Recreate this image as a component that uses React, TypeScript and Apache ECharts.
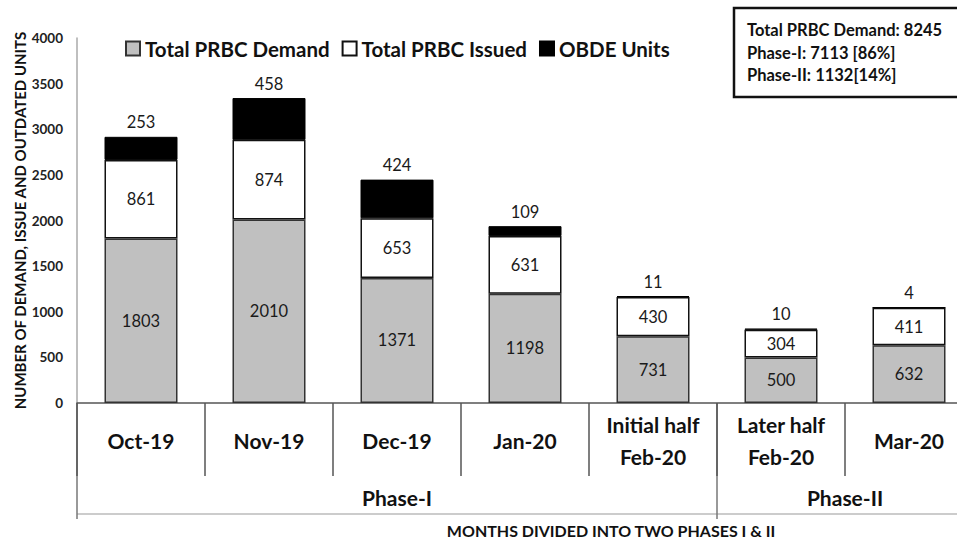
import React, { useEffect, useRef } from "react";
import * as echarts from "echarts";

const categories = [
  "Oct-19",
  "Nov-19",
  "Dec-19",
  "Jan-20",
  "Initial half\nFeb-20",
  "Later half\nFeb-20",
  "Mar-20",
];
const demand = [1803, 2010, 1371, 1198, 731, 500, 632];
const issued = [861, 874, 653, 631, 430, 304, 411];
const obde = [253, 458, 424, 109, 11, 10, 4];
const seriesNames = ["Total PRBC Demand", "Total PRBC Issued", "OBDE Units"];
const phaseNames = ["Phase-I", "Phase-II"];
const phaseStarts = [0, 5];
const phaseEnds = [5, 7];
const summaryLines = [
  "Total PRBC Demand: 8245",
  "Phase-I: 7113 [86%]",
  "Phase-II: 1132[14%]",
];
const yMin = 0;
const yMax = 4000;
const yInterval = 500;
const yTitle = "NUMBER OF DEMAND, ISSUE AND OUTDATED UNITS";
const xTitle = "MONTHS DIVIDED INTO TWO PHASES I & II";

const FONT = "Lato, 'Open Sans', sans-serif";

export default function App() {
  const ref = useRef<HTMLDivElement>(null);
  useEffect(() => {
    document.body.style.margin = "0";
    const chart = echarts.init(ref.current!, null, { renderer: "svg" });
    const labelStyle = { fontFamily: FONT, fontSize: 16.5, color: "#1a1a1a" };
    chart.setOption({
      animation: false,
      backgroundColor: "#fff",
      textStyle: { fontFamily: FONT },
      grid: {
        left: 77,
        width: 896,
        top: 38,
        bottom: 138,
        containLabel: false,
        outerBoundsMode: "none",
      },
      legend: {
        top: 33,
        left: 120,
        itemWidth: 14,
        itemHeight: 14,
        itemGap: 12,
        icon: "rect",
        textStyle: { fontFamily: FONT, fontSize: 20.5, fontWeight: "bold", color: "#111" },
        data: seriesNames,
      },
      xAxis: {
        type: "category",
        data: categories,
        axisLine: { lineStyle: { color: "#555", width: 1.5 } },
        axisTick: { show: true, interval: 0, length: 73, lineStyle: { color: "#555", width: 1.5 } },
        axisLabel: {
          interval: 0,
          fontFamily: FONT,
          fontSize: 21,
          fontWeight: "bold",
          color: "#111",
          lineHeight: 32,
          verticalAlign: "middle",
          margin: 37,
        },
      },
      yAxis: {
        type: "value",
        min: yMin,
        max: yMax,
        interval: yInterval,
        axisLine: { show: true, lineStyle: { color: "#aaa", width: 1.5 } },
        axisTick: { show: false },
        splitLine: { show: false },
        axisLabel: {
          fontFamily: FONT,
          fontSize: 13.5,
          fontWeight: "bold",
          color: "#222",
          margin: 14,
          formatter: (v: number) => String(v),
        },
        name: yTitle,
        nameLocation: "middle",
        nameGap: 50,
        nameMoveOverlap: false,
        nameTextStyle: { fontFamily: FONT, fontSize: 15, fontWeight: "bold", color: "#111" },
      },
      series: [
        {
          name: seriesNames[0],
          type: "bar",
          stack: "a",
          barWidth: 73,
          data: demand,
          itemStyle: { color: "#c0c0c0", borderColor: "#333", borderWidth: 1.5 },
          label: { show: true, position: "inside", ...labelStyle },
        },
        {
          name: seriesNames[1],
          type: "bar",
          stack: "a",
          barWidth: 73,
          data: issued,
          itemStyle: { color: "#fff", borderColor: "#111", borderWidth: 1.5 },
          label: { show: true, position: "inside", ...labelStyle },
        },
        {
          name: seriesNames[2],
          type: "bar",
          stack: "a",
          barWidth: 73,
          data: obde,
          itemStyle: { color: "#000", borderColor: "#000", borderWidth: 1 },
          label: { show: true, position: "top", distance: 6, ...labelStyle },
        },
      ],
    });

    // Decorations computed from the axes
    const c0 = chart.convertToPixel({ xAxisIndex: 0 }, categories[0]) as number;
    const c1 = chart.convertToPixel({ xAxisIndex: 0 }, categories[1]) as number;
    const band = c1 - c0;
    const boundary = (i: number) => c0 - band / 2 + i * band;
    const base = chart.convertToPixel({ yAxisIndex: 0 }, 0) as number;
    const rowBottom = base + 111;
    const lineStyle = { stroke: "#777", lineWidth: 1.5 };
    const graphics: any[] = [
      {
        type: "line",
        shape: { x1: boundary(0), y1: rowBottom, x2: boundary(categories.length) + 2, y2: rowBottom },
        style: { stroke: "#999", lineWidth: 1.2 },
      },
    ];
    const vlines = new Set<number>();
    phaseStarts.forEach((s) => vlines.add(s));
    vlines.forEach((i) => {
      graphics.push({
        type: "line",
        shape: { x1: boundary(i), y1: base, x2: boundary(i), y2: rowBottom + 5 },
        style: lineStyle,
      });
    });
    phaseNames.forEach((n, i) => {
      const cx = (boundary(phaseStarts[i]) + boundary(phaseEnds[i])) / 2;
      graphics.push({
        type: "text",
        x: cx,
        y: base + 94,
        style: {
          text: n,
          fontFamily: FONT,
          fontSize: 21,
          fontWeight: "bold",
          fill: "#111",
          align: "center",
          verticalAlign: "middle",
        },
      });
    });
    graphics.push({
      type: "text",
      x: 611,
      y: 530,
      style: {
        text: xTitle,
        fontFamily: FONT,
        fontSize: 16,
        fontWeight: "bold",
        fill: "#111",
        align: "center",
        verticalAlign: "middle",
      },
    });
    graphics.push({
      type: "rect",
      shape: { x: 734, y: 8, width: 232, height: 89 },
      style: { fill: "#fff", stroke: "#111", lineWidth: 2.5 },
    });
    summaryLines.forEach((t, i) => {
      graphics.push({
        type: "text",
        x: 747,
        y: 30 + i * 22.5,
        style: {
          text: t,
          fontFamily: FONT,
          fontSize: 16.5,
          fontWeight: "bold",
          fill: "#111",
          align: "left",
          verticalAlign: "middle",
        },
      });
    });
    chart.setOption({ graphic: graphics });

    return () => chart.dispose();
  }, []);
  return <div ref={ref} style={{ width: 957, height: 541 }} />;
}
